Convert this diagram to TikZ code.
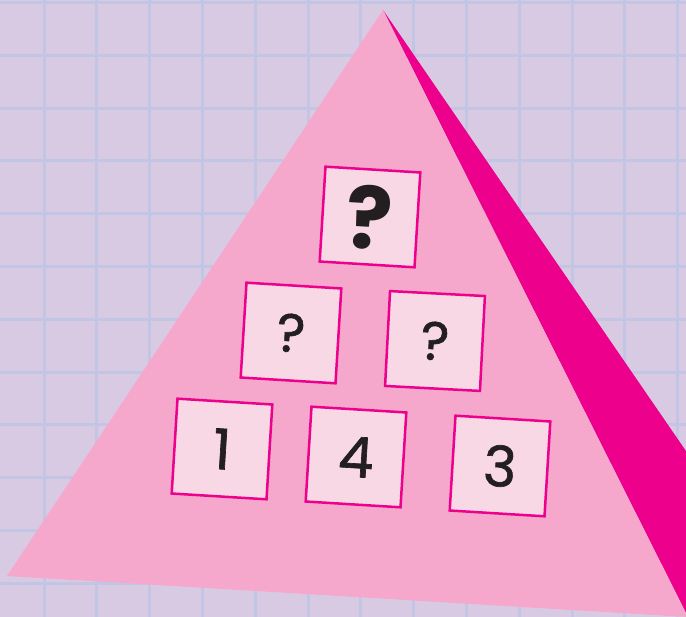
\documentclass[tikz,border=0pt]{standalone}
\usepackage{fontspec}
\setmainfont{Poppins}
\newfontfamily\tilefont[FakeBold=1.2]{Poppins}
\usepackage{tikz}
\definecolor{lavender}{RGB}{216,202,226}
\definecolor{gridblue}{RGB}{195,197,228}
\definecolor{pyrlight}{RGB}{245,168,204}
\definecolor{pyrdark}{RGB}{236,0,140}
\definecolor{tilefill}{RGB}{249,216,230}
\definecolor{ink}{RGB}{35,31,32}

\begin{document}
\begin{tikzpicture}[
  x=1pt,y=-1pt,
  tile/.style={
    draw=pyrdark,
    fill=tilefill,
    line width=2.5pt,
    minimum size=95pt,
    inner sep=0pt,
    text=ink,
    font=\tilefont\fontsize{56}{56}\selectfont
  },
  hidden/.style={tile,font=\tilefont\fontsize{54}{54}\selectfont},
  goal/.style={tile,font=\fontsize{86}{86}\selectfont\bfseries}
]
\useasboundingbox (0,0) rectangle (686,617);
\clip (0,0) rectangle (686,617);
% paper with grid
\fill[lavender] (0,0) rectangle (686,617);
\foreach \i in {0,...,12}
  \draw[gridblue,line width=3pt] (44+52.8*\i,0) -- (44+52.8*\i,617);
\foreach \j in {0,...,11}
  \draw[gridblue,line width=3pt] (0,2.5+52.8*\j) -- (686,2.5+52.8*\j);
% pyramid
\coordinate (apex) at (383,10);
\coordinate (baseL) at (7,576);
\coordinate (baseR) at (688,617);
\coordinate (edge) at (800,617);
\fill[pyrdark] (apex) -- (edge) -- (baseR) -- cycle;
\fill[pyrlight] (apex) -- (baseL) -- (baseR) -- cycle;
% tiles
\node[goal,rotate=-3.5] (top) at (370,217) {?};
\node[hidden,rotate=-3.5] (midL) at (291,333) {?};
\node[hidden,rotate=-3] (midR) at (435,341) {?};
\node[tile,rotate=-3.5] (botL) at (222,449) {1};
\node[tile,rotate=-3.5] (botM) at (356,457) {4};
\node[tile,rotate=-3.5] (botR) at (500,466) {3};
\end{tikzpicture}
\end{document}
